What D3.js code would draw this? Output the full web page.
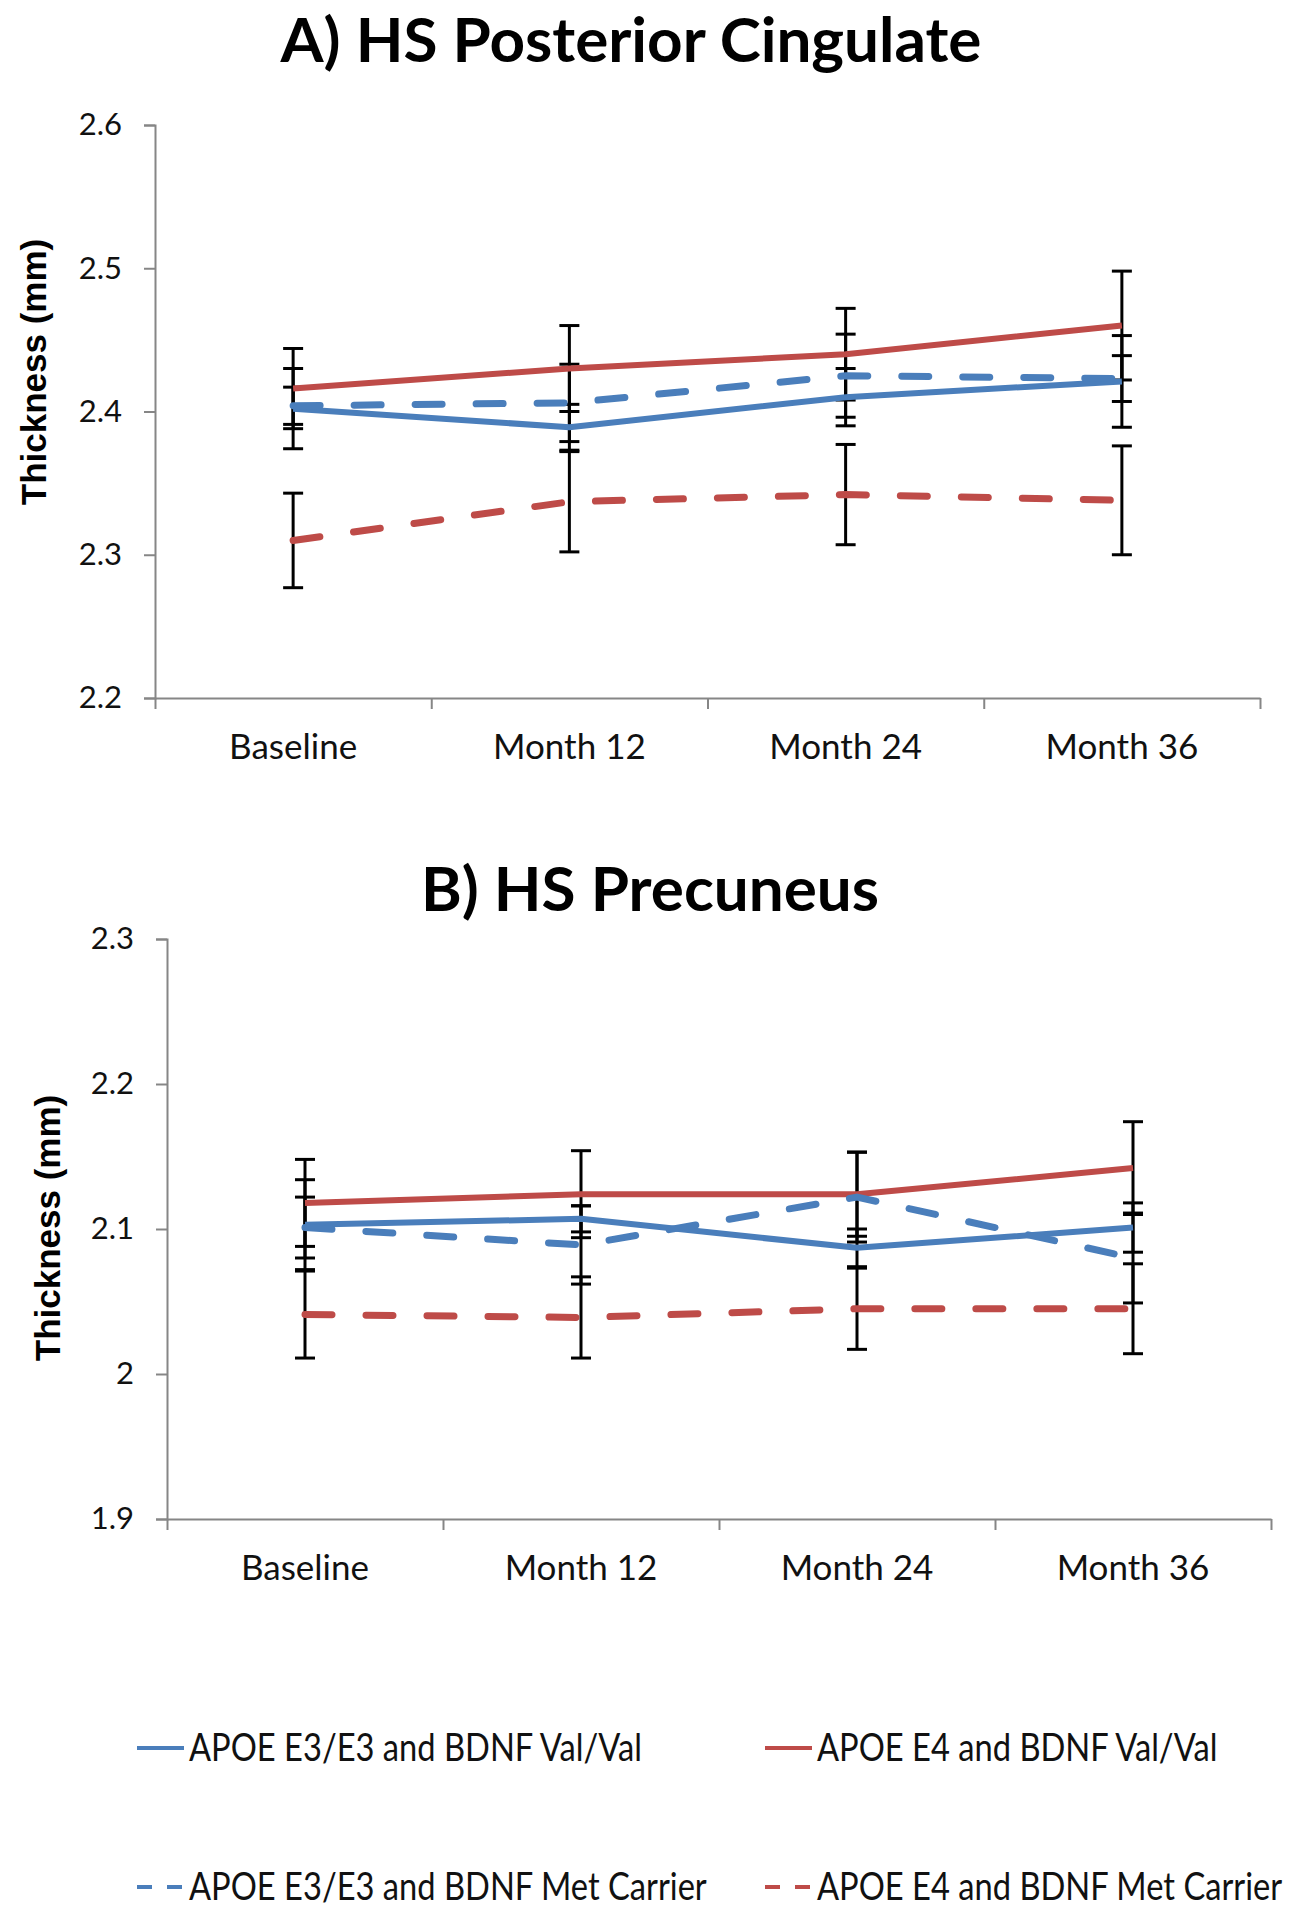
<!DOCTYPE html>
<html>
<head>
<meta charset="utf-8">
<script src="https://cdn.jsdelivr.net/npm/d3@7"></script>
<style>
    html, body { margin: 0; padding: 0; background: #fff; }
    svg { display: block; }
</style>
</head>
<body>
<div id="chart"></div>
<script>
// Time points (x categories)
const categories = ["Baseline", "Month 12", "Month 24", "Month 36"];

// Group names, used in legend
const groupNames = [
    "APOE E3/E3 and BDNF Val/Val",
    "APOE E4 and BDNF Val/Val",
    "APOE E3/E3 and BDNF Met Carrier",
    "APOE E4 and BDNF Met Carrier"
];

// A) HS Posterior Cingulate, mean thickness (mm) and error
const cingE3Val    = [2.402, 2.389, 2.410, 2.421];
const cingE3ValErr = [0.028, 0.016, 0.020, 0.032];
const cingE4Val    = [2.416, 2.430, 2.440, 2.460];
const cingE4ValErr = [0.028, 0.030, 0.032, 0.038];
const cingE3Met    = [2.404, 2.406, 2.425, 2.423];
const cingE3MetErr = [0.013, 0.027, 0.029, 0.016];
const cingE4Met    = [2.310, 2.337, 2.342, 2.338];
const cingE4MetErr = [0.033, 0.035, 0.035, 0.038];

// B) HS Precuneus, mean thickness (mm) and error
const precE3Val    = [2.103, 2.107, 2.087, 2.101];
const precE3ValErr = [0.031, 0.009, 0.013, 0.017];
const precE4Val    = [2.118, 2.124, 2.124, 2.142];
const precE4ValErr = [0.030, 0.030, 0.029, 0.032];
const precE3Met    = [2.101, 2.089, 2.122, 2.080];
const precE3MetErr = [0.021, 0.027, 0.031, 0.031];
const precE4Met    = [2.041, 2.039, 2.045, 2.045];
const precE4MetErr = [0.030, 0.028, 0.028, 0.031];

// Y axis ticks
const cingTicks = [2.2, 2.3, 2.4, 2.5, 2.6];
const precTicks = [1.9, 2, 2.1, 2.2, 2.3];

const WIDTH  = 1301;
const HEIGHT = 1920;

const BLUE = "#4a7ebb";
const RED  = "#be4b48";

const LABEL_FONT = "Lato, 'Open Sans', sans-serif";

const svg = d3.select("#chart")
    .append("svg")
    .attr("width", WIDTH)
    .attr("height", HEIGHT);

// Line style per group: colour and dashed or not
const styles = [
    { color: BLUE, dashed: false },
    { color: RED,  dashed: false },
    { color: BLUE, dashed: true },
    { color: RED,  dashed: true }
];

function buildSeries(values, errors)
{
    return values.map((v, i) => ({
        name  : groupNames[i],
        style : styles[i],
        points: categories.map((c, j) => ({ cat: c, value: v[j], err: errors[i][j] }))
    }));
}

/**
 * Draws one panel with title, axes, error bars and lines.
 */
function drawPanel(opts)
{
    const g = svg.append("g");

    const x = d3.scaleBand()
        .domain(categories)
        .range([opts.left, opts.right]);

    const y = d3.scaleLinear()
        .domain(opts.domain)
        .range([opts.bottom, opts.top]);

    // Title
    g.append("text")
        .attr("x", opts.titleX)
        .attr("y", opts.titleY)
        .attr("text-anchor", "middle")
        .style("font-family", LABEL_FONT)
        .style("font-weight", "bold")
        .style("font-size", "62px")
        .text(opts.title);

    // Y axis
    const yAxis = g.append("g")
        .attr("transform", `translate(${opts.left},0)`)
        .call(d3.axisLeft(y)
            .tickValues(opts.ticks)
            .tickFormat(d3.format("~g"))
            .tickSize(11)
            .tickPadding(22));

    // X axis: line and category boundary ticks
    const xEdges = d3.scaleLinear().domain([0, categories.length]).range([opts.left, opts.right]);

    const xAxis = g.append("g")
        .attr("transform", `translate(0,${opts.bottom})`)
        .call(d3.axisBottom(xEdges)
            .tickValues(d3.range(categories.length + 1))
            .tickFormat("")
            .tickSize(11)
            .tickSizeOuter(0));

    // Category labels
    const xLabels = g.append("g")
        .attr("transform", `translate(0,${opts.bottom})`)
        .call(d3.axisBottom(x).tickSize(0).tickPadding(36));
    xLabels.select(".domain").remove();

    [yAxis, xAxis].forEach((a) => {
        a.select(".domain").attr("stroke", "#868686").attr("stroke-width", 2);
        a.selectAll(".tick line").attr("stroke", "#868686").attr("stroke-width", 2);
    });

    yAxis.selectAll("text")
        .attr("fill", "#111")
        .style("font-family", LABEL_FONT)
        .style("font-size", "31px");

    xLabels.selectAll("text")
        .attr("fill", "#111")
        .style("font-family", LABEL_FONT)
        .style("font-size", "35px");

    // Y axis title
    g.append("text")
        .attr("transform", `translate(${opts.yLabelX},${opts.yLabelY}) rotate(-90)`)
        .attr("text-anchor", "middle")
        .style("font-family", "'Liberation Sans', Arial, sans-serif")
        .style("font-weight", "bold")
        .style("font-size", "35px")
        .text("Thickness (mm)");

    const cx = (d) => x(d.cat) + x.bandwidth() / 2;

    // Error bars (under the lines)
    const bars = g.append("g")
        .selectAll("g")
        .data(opts.series.flatMap((s) => s.points))
        .join("g")
        .attr("stroke", "#000")
        .attr("stroke-width", 3);

    bars.append("line")
        .attr("x1", cx).attr("x2", cx)
        .attr("y1", (d) => y(d.value - d.err))
        .attr("y2", (d) => y(d.value + d.err));

    bars.append("line")
        .attr("x1", (d) => cx(d) - 10).attr("x2", (d) => cx(d) + 10)
        .attr("y1", (d) => y(d.value + d.err))
        .attr("y2", (d) => y(d.value + d.err));

    bars.append("line")
        .attr("x1", (d) => cx(d) - 10).attr("x2", (d) => cx(d) + 10)
        .attr("y1", (d) => y(d.value - d.err))
        .attr("y2", (d) => y(d.value - d.err));

    // Lines
    const line = d3.line()
        .x(cx)
        .y((d) => y(d.value));

    g.append("g")
        .selectAll("path")
        .data(opts.series)
        .join("path")
        .attr("d", (s) => line(s.points))
        .attr("fill", "none")
        .attr("stroke", (s) => s.style.color)
        .attr("stroke-width", (s) => s.style.dashed ? 7 : 6)
        .attr("stroke-linecap", (s) => s.style.dashed ? "round" : "butt")
        .attr("stroke-linejoin", "round")
        .attr("stroke-dasharray", (s) => s.style.dashed ? "27,34" : null);
}

drawPanel({
    title   : "A) HS Posterior Cingulate",
    titleX  : 631,
    titleY  : 62,
    left    : 155,
    right   : 1260,
    top     : 125,
    bottom  : 698,
    domain  : [2.2, 2.6],
    ticks   : cingTicks,
    yLabelX : 46,
    yLabelY : 372,
    series  : buildSeries(
        [cingE3Val, cingE4Val, cingE3Met, cingE4Met],
        [cingE3ValErr, cingE4ValErr, cingE3MetErr, cingE4MetErr]
    )
});

drawPanel({
    title   : "B) HS Precuneus",
    titleX  : 650,
    titleY  : 911,
    left    : 167,
    right   : 1271,
    top     : 939,
    bottom  : 1519,
    domain  : [1.9, 2.3],
    ticks   : precTicks,
    yLabelX : 60,
    yLabelY : 1228,
    series  : buildSeries(
        [precE3Val, precE4Val, precE3Met, precE4Met],
        [precE3ValErr, precE4ValErr, precE3MetErr, precE4MetErr]
    )
});

// Legend, two columns and two rows
const legendPos = [
    { x: 137, y: 1748 },
    { x: 765, y: 1748 },
    { x: 137, y: 1887 },
    { x: 765, y: 1887 }
];

const legend = svg.append("g")
    .selectAll("g")
    .data(groupNames)
    .join("g")
    .attr("transform", (d, i) => `translate(${legendPos[i].x},${legendPos[i].y})`);

legend.append("line")
    .attr("x1", 0)
    .attr("x2", 47)
    .attr("stroke", (d, i) => styles[i].color)
    .attr("stroke-width", 4)
    .attr("stroke-dasharray", (d, i) => styles[i].dashed ? "15,15" : null);

// Text is narrowed a bit to match the condensed look of the original
legend.append("text")
    .attr("transform", "translate(52,13) scale(0.86,1)")
    .style("font-family", LABEL_FONT)
    .style("font-size", "38px")
    .attr("fill", "#111")
    .text((d) => d);
</script>
</body>
</html>
